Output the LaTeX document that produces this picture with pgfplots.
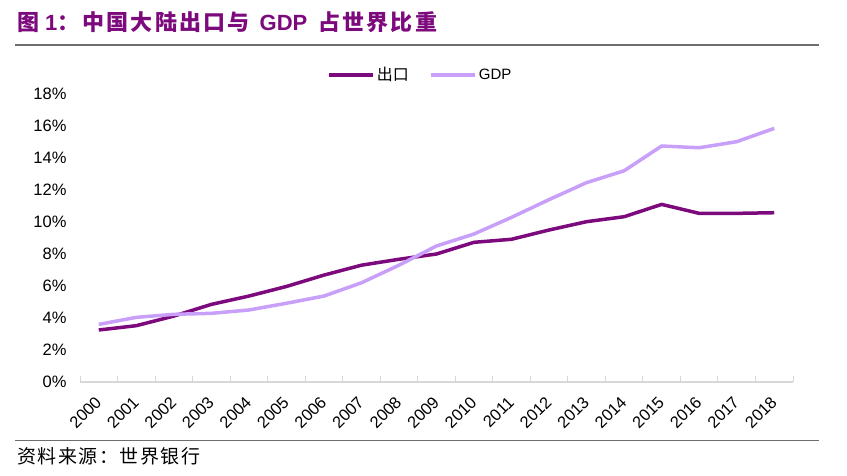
\documentclass[border=0pt]{standalone}
\usepackage{fontspec}
\setmainfont{Liberation Sans}
\newfontfamily\cjk{Noto Sans CJK SC}
\newfontfamily\cjkt{Noto Sans CJK SC}[LetterSpace=10]
\newfontfamily\cjks{Noto Sans CJK SC}[LetterSpace=8]
\usepackage{pgfplots}
\pgfplotsset{compat=1.18}
\definecolor{darkp}{RGB}{125,10,125}
\definecolor{lightp}{RGB}{200,160,250}
\definecolor{rulegray}{RGB}{110,110,110}
\definecolor{axgray}{RGB}{215,215,215}
\begin{document}
\begin{tikzpicture}
\path[use as bounding box,fill=white] (0pt,0pt) rectangle (847pt,476pt);
% title
\node[anchor=base west,inner sep=0pt,text=darkp,font=\fontsize{22}{26}\selectfont\bfseries] at (17pt,445pt)
 {{\cjkt 图}\hspace{6pt}1{\cjkt ：\hspace{3pt}中国大陆出口与}\hspace{10pt}GDP\hspace{11pt}{\cjkt 占世界比重}};
\draw[rulegray,line width=1.5pt] (15pt,431pt) -- (819pt,431pt);
\draw[rulegray,line width=1.5pt] (15pt,35.5pt) -- (819pt,35.5pt);
\node[anchor=base west,inner sep=0pt,font=\fontsize{19}{22}\selectfont\cjks] at (17pt,12pt) {资料来源：世界银行};
\begin{axis}[
  at={(80pt,94pt)}, anchor=south west,
  scale only axis, width=713pt, height=288pt,
  xmin=-0.5, xmax=18.5, ymin=0, ymax=18,
  axis x line=bottom, axis y line=left,
  x axis line style={-, draw=axgray, line width=1.2pt},
  y axis line style={draw=none},
  ytick={0,2,...,18},
  yticklabels={0\%,2\%,4\%,6\%,8\%,10\%,12\%,14\%,16\%,18\%},
  ytick style={draw=none},
  xtick={0,...,18},
  xticklabels={2000,2001,2002,2003,2004,2005,2006,2007,2008,2009,2010,2011,2012,2013,2014,2015,2016,2017,2018},
  minor xtick={-0.5,0.5,...,18.5},
  major tick length=0pt,
  minor tick length=6pt,
  tick align=inside,
  minor x tick style={draw=axgray, line width=1pt},
  major x tick style={draw=none},
  /pgf/number format/assume math mode=true,
  yticklabel style={font=\fontsize{16.5}{19}\selectfont, xshift=-10pt},
  xticklabel style={font=\fontsize{16.5}{19}\selectfont, yshift=-15pt, xshift=2pt, rotate=45, anchor=east},
  legend style={at={(0.477,1.066)}, anchor=center, draw=none, fill=none,
     legend columns=2, font=\fontsize{15}{18}\selectfont,
     /tikz/every even column/.append style={column sep=18pt}},
  legend image code/.code={\draw[#1,line width=4pt] (0pt,0pt) -- (44pt,0pt);},
  clip=false,
]
\addplot[darkp, line width=3.5pt, line join=round] coordinates {
(0,3.25) (1,3.52) (2,4.12) (3,4.85) (4,5.37) (5,5.97) (6,6.68) (7,7.3) (8,7.67) (9,8.0)
(10,8.73) (11,8.92) (12,9.5) (13,10.02) (14,10.33) (15,11.1) (16,10.54) (17,10.54) (18,10.58)};
\addlegendentry{{\cjk\fontsize{16}{18}\selectfont 出口}}
\addplot[lightp, line width=3.5pt, line join=round] coordinates {
(0,3.6) (1,4.04) (2,4.23) (3,4.29) (4,4.5) (5,4.92) (6,5.37) (7,6.2) (8,7.3) (9,8.5)
(10,9.25) (11,10.29) (12,11.4) (13,12.46) (14,13.2) (15,14.75) (16,14.64) (17,15.02) (18,15.85)};
\addlegendentry{GDP}
\end{axis}
\end{tikzpicture}
\end{document}
